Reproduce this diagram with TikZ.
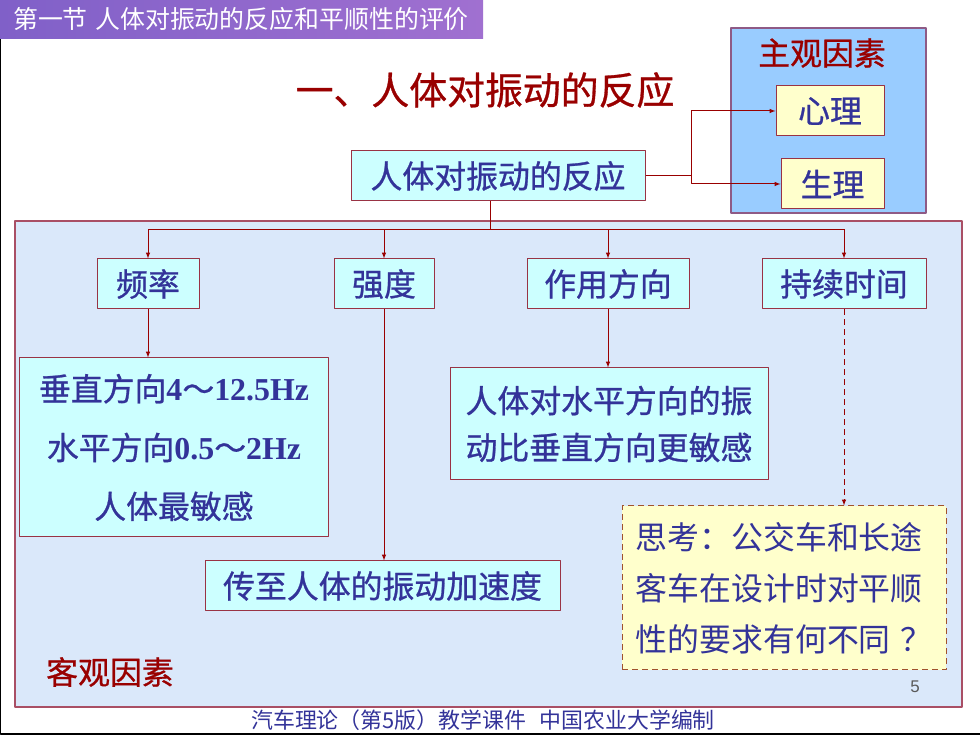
\documentclass[tikz,border=0pt]{standalone}
\usepackage{fontspec}
\setmainfont{Liberation Serif}
\newfontfamily\cjk{Noto Sans CJK SC}
\newfontfamily\cjkbold[FakeBold=0.8]{Noto Sans CJK SC}
\newfontfamily\pagefont{Liberation Sans}
\definecolor{navytext}{HTML}{333399}
\definecolor{arrowred}{HTML}{990000}
\definecolor{boxedge}{HTML}{993344}
\definecolor{cyanfill}{HTML}{CCFFFF}
\definecolor{creamfill}{HTML}{FFFFCC}
\definecolor{panelfill}{HTML}{DAE8FA}
\definecolor{paneledge}{HTML}{A94F65}
\definecolor{subjfill}{HTML}{99CCFF}
\definecolor{subjedge}{HTML}{8E5A86}
\definecolor{dashedge}{HTML}{A0522D}
\definecolor{barleft}{HTML}{8060C8}
\definecolor{barmid}{HTML}{4C5AB4}
\definecolor{barright}{HTML}{A070D0}
\begin{document}
\begin{tikzpicture}[x=1bp,y=1bp,>=latex,line join=bevel,
  cyanbox/.style={draw=boxedge,fill=cyanfill,line width=1bp,inner sep=0pt,text=navytext,
    font=\cjkbold\fontsize{32}{36}\selectfont,minimum height=50bp},
  creambox/.style={cyanbox,fill=creamfill},
  redlabel/.style={text=arrowred,font=\cjkbold\fontsize{32}{36}\selectfont},
  link/.style={arrowred,line width=1bp},
]
\useasboundingbox (0,0) rectangle (980,735);
%%
\fill [white] (0,0) rectangle (980,735);
\draw [black,line width=1.5bp] (0.75,735) -- (0.75,0.75) -- (980,0.75);
\shade [left color=barleft,middle color=barmid,right color=barright] (0,696) rectangle (483,735);
\node (header) at (241,715.5) [text=white,font=\cjk\fontsize{25}{28}\selectfont] {第一节\hspace{0.3em}人体对振动的反应和平顺性的评价};
\node (title) at (485,645) [redlabel,font=\cjkbold\fontsize{38}{42}\selectfont] {一、人体对振动的反应};
%
\draw [draw=subjedge,fill=subjfill,line width=1.2bp] (731,522) rectangle (926,707);
\draw [draw=paneledge,fill=panelfill,line width=1.2bp] (15,28) rectangle (962,514);
%
\node (subjtitle) at (822,682) [redlabel] {主观因素};
\node (xinli) at (830,624) [creambox,minimum width=108bp] {心理};
\node (shengli) at (832.5,551) [creambox,minimum width=103bp] {生理};
\node (root) at (498,559) [cyanbox,minimum width=294bp] {人体对振动的反应};
\draw [link,->] (root.east) -- ++(46,0) |- (xinli.west);
\draw [link,->] (root.east) -- ++(46,0) |- (shengli.west);
%
\node (pinlv) at (148,451) [cyanbox,minimum width=102bp] {频率};
\node (qiangdu) at (384,451) [cyanbox,minimum width=100bp] {强度};
\node (zuoyong) at (608,451) [cyanbox,minimum width=162bp] {作用方向};
\node (chixu) at (844,451) [cyanbox,minimum width=164bp] {持续时间};
\draw [link] ([xshift=-8bp]root.south) -- ++(0,-28) coordinate (busmid);
\draw [link] (busmid -| pinlv.north) -- (busmid -| chixu.north);
\foreach \kid in {pinlv,qiangdu,zuoyong,chixu}
  \draw [link,->] (busmid -| \kid.north) -- (\kid.north);
%
\node (pinlvnote) at (174,287.5) [cyanbox,minimum width=308bp,minimum height=179bp,align=center,
  font=\cjkbold\fontsize{32}{59}\selectfont]
  {垂直方向\textbf{\rmfamily 4}～\textbf{\rmfamily 12.5Hz}\\水平方向\textbf{\rmfamily 0.5}～\textbf{\rmfamily 2Hz}\\人体最敏感};
\node (accel) at (382.5,149) [cyanbox,minimum width=355bp] {传至人体的振动加速度};
\node (direction) at (609,311) [cyanbox,minimum width=318bp,minimum height=112bp,align=center,
  font=\cjkbold\fontsize{32}{47}\selectfont] {人体对水平方向的振\\动比垂直方向更敏感};
\node (think) at (784,147) [creambox,draw=dashedge,dash pattern=on 6bp off 4bp,minimum width=324bp,
  minimum height=164bp,align=left,font=\cjk\fontsize{32}{51}\selectfont]
  {思考：公交车和长途\\客车在设计时对平顺\\性的要求有何不同\hspace{0.3em}？};
\draw [link,->] (pinlv.south) -- (pinlv.south |- pinlvnote.north);
\draw [link,->] (qiangdu.south) -- (qiangdu.south |- accel.north);
\draw [link,->] (zuoyong.south) -- (zuoyong.south |- direction.north);
\draw [link,->,dash pattern=on 6bp off 4bp] (chixu.south) -- (chixu.south |- think.north);
%
\node (objtitle) at (110,63) [redlabel] {客观因素};
\node (pageno) at (915,48) [text=black!65,font=\pagefont\fontsize{17}{20}\selectfont] {5};
\node (footer) at (483,15) [text=navytext,font=\cjk\fontsize{22}{24}\selectfont] {汽车理论（第5版）教学课件\hspace{0.6em}中国农业大学编制};
%
\end{tikzpicture}
\end{document}
